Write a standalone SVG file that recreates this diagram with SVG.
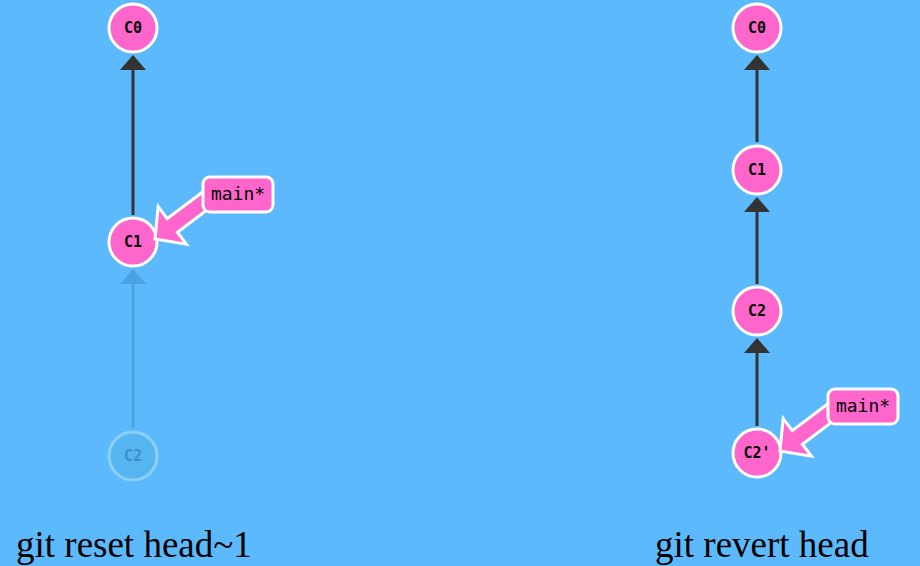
<svg xmlns="http://www.w3.org/2000/svg" width="920" height="566" viewBox="0 0 920 566">
<defs>
<style>
.bg{fill:#5cb9fc}
.commit circle{fill:#ff66cc;stroke:#ffffff;stroke-width:3}
.commit text{font-family:"DejaVu Sans Mono","Liberation Mono",monospace;font-weight:bold;font-size:15px;fill:#000;text-anchor:middle;dominant-baseline:central}
.ghost circle{fill:#55b5f0;stroke:#8ccffb;stroke-width:3}
.ghost text{font-family:"DejaVu Sans Mono","Liberation Mono",monospace;font-weight:bold;font-size:15px;fill:#3e8fc6;text-anchor:middle;dominant-baseline:central}
.edge{stroke:#333333;stroke-width:3;fill:none}
.edgehead{fill:#333333}
.gedge{stroke:#4ca2de;stroke-width:3;fill:none}
.gedgehead{fill:#4ca2de}
.branch rect{fill:#ff66cc;stroke:#ffffff;stroke-width:3}
.branch polygon{fill:#ff66cc;stroke:#ffffff;stroke-width:3;stroke-linejoin:miter}
.branch text{font-family:"DejaVu Sans Mono","Liberation Mono",monospace;font-size:18px;fill:#000;text-anchor:middle}
.caption{font-family:"Liberation Serif","Times New Roman",serif;font-size:37px;fill:#000}
</style>
</defs>
<rect class="bg" x="0" y="0" width="920" height="566"/>

<g id="connectors">
  <line class="edge" x1="133" y1="215" x2="133" y2="68"/>
  <polygon class="edgehead" points="133,55 146,70 120,70"/>
  <line class="gedge" x1="133" y1="428" x2="133" y2="282"/>
  <polygon class="gedgehead" points="133,269 146,284 120,284"/>
  <line class="edge" x1="757" y1="142" x2="757" y2="68"/>
  <polygon class="edgehead" points="757,55 770,70 744,70"/>
  <line class="edge" x1="757" y1="284" x2="757" y2="210"/>
  <polygon class="edgehead" points="757,197 770,212 744,212"/>
  <line class="edge" x1="757" y1="426" x2="757" y2="351"/>
  <polygon class="edgehead" points="757,338 770,353 744,353"/>
</g>

<g id="left-C0" class="commit"><circle cx="133" cy="28" r="24"/><text x="133" y="28">C0</text></g>
<g id="left-C1" class="commit"><circle cx="133" cy="242" r="24"/><text x="133" y="242">C1</text></g>
<g id="left-C2" class="ghost"><circle cx="133" cy="456" r="24"/><text x="133" y="456">C2</text></g>

<g id="left-main" class="branch">
  <polygon points="155,239 158.2,206.6 167.2,218.6 202.4,192.2 212.6,205.8 177.4,232.2 186.4,244.2"/>
  <rect x="203" y="177" width="70" height="35" rx="7"/>
  <text x="238" y="200">main*</text>
</g>

<g id="right-C0" class="commit"><circle cx="757" cy="28" r="24"/><text x="757" y="28">C0</text></g>
<g id="right-C1" class="commit"><circle cx="757" cy="170" r="24"/><text x="757" y="170">C1</text></g>
<g id="right-C2" class="commit"><circle cx="757" cy="311" r="24"/><text x="757" y="311">C2</text></g>
<g id="right-C2p" class="commit"><circle cx="757" cy="453" r="24"/><text x="757" y="453">C2'</text></g>

<g id="right-main" class="branch">
  <polygon points="780,451 783.2,418.6 792.2,430.6 827.4,404.2 837.6,417.8 802.4,444.2 811.4,456.2"/>
  <rect x="828" y="389" width="70" height="35" rx="7"/>
  <text x="863" y="412">main*</text>
</g>

<text class="caption" x="16" y="557">git reset head~1</text>
<text class="caption" x="655" y="557">git revert head</text>
</svg>
